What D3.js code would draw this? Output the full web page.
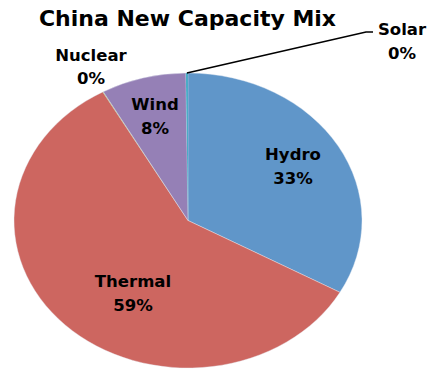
<!DOCTYPE html>
<html>
<head>
<meta charset="utf-8">
<script src="https://cdn.jsdelivr.net/npm/d3@7/dist/d3.min.js"></script>
<style>
  html, body { margin: 0; padding: 0; background: #fff; }
  svg { display: block; }
  text { font-family: "DejaVu Sans", sans-serif; font-weight: bold; fill: #000; }
</style>
</head>
<body>
<svg id="chart" width="431" height="373"></svg>
<script>
// Share of new generating capacity by source (percent)
const sources = ["Hydro", "Thermal", "Nuclear", "Wind", "Solar"];
const shares  = [33.1, 58.75, 0.05, 7.9, 0.2];
const colors  = ["#6096C9", "#CD6660", "#9BBB59", "#9580B6", "#4BACC6"];
const title   = "China New Capacity Mix";

const W = 431, H = 373;
const cx = 188, cy = 220.5;      // pie centre
const rx = 174, ry = 147.5;      // pie is drawn as a stretched circle

// label placement: [x, first baseline]
const labelPos = {
  Hydro:   [293, 160],
  Thermal: [133, 287],
  Nuclear: [91, 60.5],
  Wind:    [155, 110],
  Solar:   [402, 35]
};
const lineGap = 23.5;

const svg = d3.select("#chart");

svg.append("text")
  .attr("x", 187.5).attr("y", 26)
  .attr("text-anchor", "middle")
  .attr("font-size", 22)
  .text(title);

const data = sources.map((s, i) => ({ name: s, value: shares[i], color: colors[i] }));
const pie = d3.pie().sort(null).value(d => d.value);
const arcs = pie(data);

const arc = d3.arc().innerRadius(0).outerRadius(ry);
const sx = rx / ry;

const g = svg.append("g").attr("transform", `translate(${cx},${cy}) scale(${sx},1)`);
g.selectAll("path")
  .data(arcs)
  .join("path")
  .attr("d", arc)
  .attr("fill", d => d.data.color)
  .attr("stroke", d => d.data.value < 1 ? "none" : "#e8eef6")
  .attr("stroke-width", 0.4)
  .attr("vector-effect", "non-scaling-stroke");

// leader line for the Solar slice, from its outer edge
const solar = arcs.find(a => a.data.name === "Solar");
const mid = (solar.startAngle + solar.endAngle) / 2;
const px = cx + rx * Math.sin(mid), py = cy - ry * Math.cos(mid);
svg.append("polyline")
  .attr("points", `${px},${py} 366,32 373,32`)
  .attr("fill", "none")
  .attr("stroke", "#000")
  .attr("stroke-width", 1.6);

const fmt = d3.format(".0f");
const labels = svg.append("g");
arcs.forEach(a => {
  const [x, y] = labelPos[a.data.name];
  const t = labels.append("text")
    .attr("text-anchor", "middle")
    .attr("font-size", 16.5);
  t.append("tspan").attr("x", x).attr("y", y).text(a.data.name);
  t.append("tspan").attr("x", x).attr("y", y + lineGap).text(fmt(a.data.value) + "%");
});
</script>
</body>
</html>
